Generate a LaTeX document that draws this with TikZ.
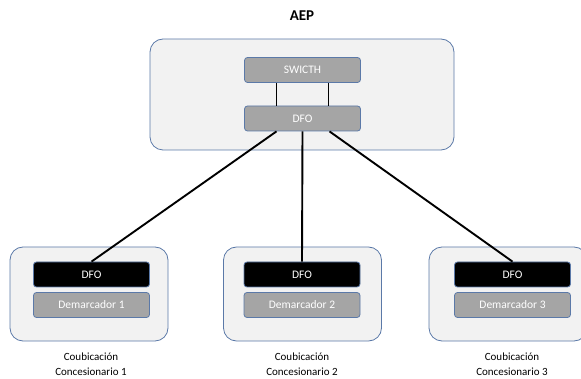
\documentclass[tikz,border=0pt]{standalone}
\usepackage{fontspec}
\setmainfont{Carlito}
\usetikzlibrary{calc}
\definecolor{edgeblue}{HTML}{5B79A8}
\definecolor{siteback}{HTML}{F2F2F2}
\definecolor{unitgray}{HTML}{A5A5A5}
\tikzset{
  site/.style={draw=edgeblue, fill=siteback, line width=0.8pt, rounded corners=13pt, inner sep=0pt},
  unit/.style={draw=edgeblue, fill=unitgray, line width=0.8pt, rounded corners=3pt, inner sep=0pt,
    text=white, font=\fontsize{11.5}{14}\selectfont, minimum width=116pt, minimum height=25pt},
  dfobox/.style={unit, fill=black},
  sitelabel/.style={align=center, font=\fontsize{11}{15}\selectfont},
  link/.style={line width=1.9pt}
}
\begin{document}
\begin{tikzpicture}[x=1pt, y=-1pt]
\useasboundingbox (0,0) rectangle (581,379);
\node[font=\bfseries\fontsize{15}{18}\selectfont] (title) at (302,16) {AEP};
\node[site, minimum width=304pt, minimum height=111pt] (aep) at (302,94.5) {};
\node[unit] (switch) at (302.5,70) {SWICTH};
\node[unit] (dfotop) at (302.5,118.5) {DFO};
\draw[link] ($(switch.south)+(-26pt,0)$) -- ($(dfotop.north)+(-26pt,0)$);
\draw[link] ($(switch.south)+(26pt,0)$) -- ($(dfotop.north)+(26pt,0)$);

\node[site, minimum width=158pt, minimum height=94pt] (siteA) at (89,294) {};
\node[site, minimum width=158pt, minimum height=94pt] (siteB) at (302.5,294) {};
\node[site, minimum width=158pt, minimum height=94pt] (siteC) at (508,294) {};
\node[dfobox] (dfoA) at (91.5,274.5) {DFO};
\node[dfobox] (dfoB) at (302,274.5) {DFO};
\node[dfobox] (dfoC) at (512.5,274.5) {DFO};
\node[unit] (demA) at (91.5,305) {Demarcador 1};
\node[unit] (demB) at (302,305) {Demarcador 2};
\node[unit] (demC) at (512.5,305) {Demarcador 3};
\node[sitelabel] (labA) at (91,364) {Coubicación\\Concesionario 1};
\node[sitelabel] (labB) at (302,364) {Coubicación\\Concesionario 2};
\node[sitelabel] (labC) at (512,364) {Coubicación\\Concesionario 3};

\draw[link] ($(dfotop.south)+(-26pt,0)$) -- (dfoA.north);
\draw[link] (dfotop.south) -- (dfoB.north);
\draw[link] ($(dfotop.south)+(27pt,0)$) -- (dfoC.north);
\end{tikzpicture}
\end{document}
